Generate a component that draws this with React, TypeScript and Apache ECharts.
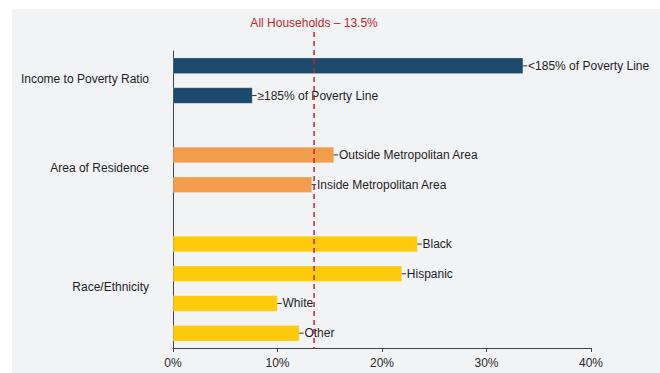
import React, { useEffect, useRef } from "react";
import * as echarts from "echarts";

const categories = [
  "<185% of Poverty Line",
  "≥185% of Poverty Line",
  " ",
  "Outside Metropolitan Area",
  "Inside Metropolitan Area",
  "  ",
  "Black",
  "Hispanic",
  "White",
  "Other",
];
const values: (number | null)[] = [33.5, 7.6, null, 15.4, 13.3, null, 23.4, 21.9, 10.0, 12.1];
const errors: (number | null)[] = [0.4, 0.4, null, 0.4, 0.4, null, 0.4, 0.4, 0.4, 0.4];
const rowGroup: (number | null)[] = [0, 0, null, 1, 1, null, 2, 2, 2, 2];
const groupLabels = ["Income to Poverty Ratio", "Area of Residence", "Race/Ethnicity"];
const groupFirstRow = [0, 3, 6];
const groupLastRow = [1, 4, 9];
const referenceValue = 13.5;
const referenceLabel = "All Households – 13.5%";
const xTicks = [0, 40, 10];

const groupColors = ["#1d4a6c", "#f19d4b", "#ffc90c"];
const FONT = "Liberation Sans, Arial, sans-serif";
const RED = "#c3262f";

export default function App() {
  const ref = useRef<HTMLDivElement>(null);
  useEffect(() => {
    document.body.style.margin = "0";
    if (!ref.current) return;
    const chart = echarts.init(ref.current, null, { renderer: "svg" });
    const gridTop = 51;
    const gridLeft = 173;
    const option: any = {
      animation: false,
      backgroundColor: "#ffffff",
      textStyle: { fontFamily: FONT },
      grid: { left: gridLeft, right: 69, top: gridTop, bottom: 25, containLabel: false },
      xAxis: {
        type: "value",
        min: xTicks[0],
        max: xTicks[1],
        interval: xTicks[2],
        axisLine: { show: true, lineStyle: { color: "#444", width: 1 } },
        axisTick: { show: true, length: 4, lineStyle: { color: "#444" } },
        splitLine: { show: false },
        axisLabel: { formatter: "{value}%", color: "#2a2a2a", fontSize: 12, margin: 9, fontFamily: FONT },
      },
      yAxis: {
        type: "category",
        inverse: true,
        data: categories,
        axisLine: { show: true, lineStyle: { color: "#444", width: 1 } },
        axisTick: { show: false },
        axisLabel: { show: false },
        splitLine: { show: false },
      },
      graphic: [
        {
          type: "rect",
          z: -10,
          silent: true,
          shape: { x: 12, y: 9, width: 648, height: 364 },
          style: { fill: "#f2f3f5" },
        },
      ],
      series: [
        {
          type: "bar",
          barWidth: 16,
          z: 2,
          data: values.map((v, i) =>
            v == null
              ? null
              : {
                  value: v,
                  itemStyle: {
                    color: groupColors[rowGroup[i] as number],
                    borderColor: "rgba(255,255,255,0.35)",
                    borderWidth: 0.5,
                  },
                }
          ),
          label: {
            show: true,
            position: "right",
            distance: 5,
            formatter: "{b}",
            color: "#1f1f1f",
            fontSize: 12,
            fontFamily: FONT,
          },
        },
        {
          type: "custom",
          z: 1,
          clip: false,
          encode: { x: 0, y: 1 },
          data: values
            .map((v, i) => (v == null ? null : [v, i, errors[i]]))
            .filter((d) => d != null),
          renderItem: (params: any, api: any) => {
            const v = api.value(0);
            const i = api.value(1);
            const e = api.value(2);
            const p1 = api.coord([v - e, i]);
            const p2 = api.coord([v + e, i]);
            return {
              type: "line",
              shape: { x1: p1[0], y1: p1[1], x2: p2[0], y2: p2[1] },
              style: { stroke: "#333", lineWidth: 1 },
              z2: 100,
            };
          },
        },
        {
          type: "custom",
          z: 4,
          clip: false,
          encode: { x: 0, y: 1 },
          data: [[referenceValue, 0]],
          renderItem: (params: any, api: any) => {
            const p = api.coord([api.value(0), 0]);
            const cs = params.coordSys;
            const top = cs.y - 19;
            return {
              type: "group",
              children: [
                {
                  type: "line",
                  shape: { x1: p[0], y1: top, x2: p[0], y2: cs.y + cs.height },
                  style: { stroke: RED, lineWidth: 1.5, lineDash: [5, 4] },
                },
                {
                  type: "text",
                  x: p[0],
                  y: top - 9,
                  style: {
                    text: referenceLabel,
                    fill: RED,
                    fontSize: 12,
                    fontFamily: FONT,
                    align: "center",
                    verticalAlign: "middle",
                  },
                },
              ],
            };
          },
        },
      ],
    };
    chart.setOption(option);

    const texts = groupLabels.map((label, g) => {
      const y1 = chart.convertToPixel({ yAxisIndex: 0 }, categories[groupFirstRow[g]]) as number;
      const y2 = chart.convertToPixel({ yAxisIndex: 0 }, categories[groupLastRow[g]]) as number;
      return {
        type: "text",
        x: gridLeft - 24,
        y: (y1 + y2) / 2 - 2,
        style: {
          text: label,
          fill: "#1f1f1f",
          fontSize: 12,
          fontFamily: FONT,
          align: "right",
          verticalAlign: "middle",
        },
      };
    });
    chart.setOption({ graphic: [option.graphic[0], ...texts] });

    return () => chart.dispose();
  }, []);
  return <div ref={ref} style={{ width: 660, height: 373 }} />;
}
